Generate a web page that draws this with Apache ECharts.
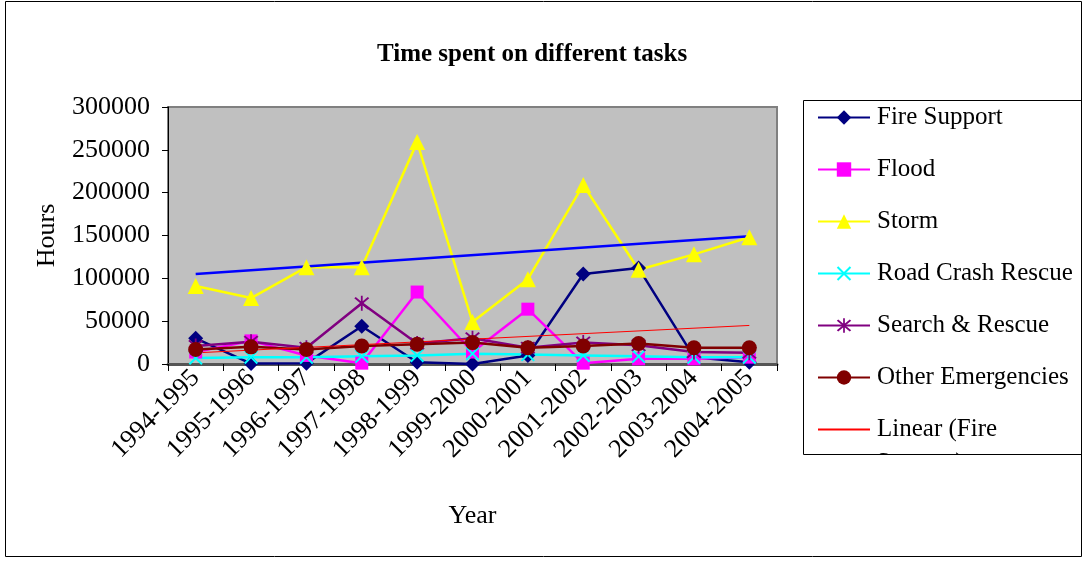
<!DOCTYPE html>
<html>
<head>
<meta charset="utf-8">
<script src="https://cdn.jsdelivr.net/npm/echarts@6/dist/echarts.min.js"></script>
<style>
  html, body { margin: 0; padding: 0; background: #fff; }
  #chart { width: 1086px; height: 561px; }
</style>
</head>
<body>
<div id="chart"></div>
<script>
var years = ['1994-1995', '1995-1996', '1996-1997', '1997-1998', '1998-1999', '1999-2000',
             '2000-2001', '2001-2002', '2002-2003', '2003-2004', '2004-2005'];

var fireSupport = [30000, 500, 1000, 44000, 2000, 0, 10000, 105000, 112000, 8000, 2000];
var flood = [14000, 27000, 10000, 1000, 84000, 14000, 64000, 1000, 6000, 6000, 8000];
var storm = [91000, 77000, 113000, 113000, 259000, 49000, 99000, 209000, 110000, 128000, 148000];
var roadCrash = [7000, 8000, 8000, 9000, 10000, 12000, 11000, 10000, 9000, 8000, 8000];
var searchRescue = [21000, 26000, 19000, 71000, 24000, 30000, 19000, 25000, 22000, 14000, 13000];
var otherEmerg = [17000, 20000, 17000, 21000, 23000, 25000, 19000, 21000, 24000, 19000, 19000];

// trend line end values (first and last year)
var fireTrendEnds = [13000, 45000];
var stormTrendEnds = [105000, 149000];

var yTicks = [0, 50000, 100000, 150000, 200000, 250000, 300000];

var FONT = 'Liberation Serif';

function trendData(ends) {
    var d = [];
    for (var i = 0; i < years.length; i++) d.push(null);
    d[0] = ends[0];
    d[years.length - 1] = ends[1];
    return d;
}

var xPath = 'path://M0,1 L1,0 L5,4 L9,0 L10,1 L6,5 L10,9 L9,10 L5,6 L1,10 L0,9 L4,5 Z';
var starPath = 'path://M0,1 L1,0 L5,4 L9,0 L10,1 L6,5 L10,9 L9,10 L5,6 L1,10 L0,9 L4,5 Z M4.4,-1 L5.6,-1 L5.6,11 L4.4,11 Z';

function lineSeries(name, data, color, symbol, size) {
    return {
        name: name,
        type: 'line',
        data: data,
        symbol: symbol,
        symbolSize: size,
        showAllSymbol: true,
        lineStyle: { color: color, width: 2.5 },
        itemStyle: { color: color },
        animation: false
    };
}

var chart = echarts.init(document.getElementById('chart'));

var option = {
    animation: false,
    title: {
        text: 'Time spent on different tasks',
        left: 372,
        top: 37,
        textStyle: { fontFamily: FONT, fontSize: 25, fontWeight: 'bold', color: '#000' }
    },
    legend: {
        orient: 'vertical',
        left: 817,
        top: 105,
        padding: 0,
        itemGap: 27,
        itemWidth: 52,
        itemHeight: 18,
        selectedMode: false,
        data: ['Fire Support', 'Flood', 'Storm', 'Road Crash Rescue', 'Search & Rescue',
               'Other Emergencies',
               { name: 'Linear (Fire Support)', itemStyle: { opacity: 0 } }],
        formatter: function (name) {
            return name === 'Linear (Fire Support)' ? 'Linear (Fire' : name;
        },
        textStyle: { fontFamily: FONT, fontSize: 25, color: '#000', padding: [0, 0, 0, 2] }
    },
    grid: {
        left: 168,
        top: 107,
        right: 309,
        bottom: 197,
        show: true,
        backgroundColor: '#C0C0C0',
        borderColor: '#808080',
        borderWidth: 2
    },
    xAxis: {
        type: 'category',
        data: years,
        boundaryGap: true,
        name: 'Year',
        nameLocation: 'middle',
        nameGap: 139,
        nameTextStyle: { fontFamily: FONT, fontSize: 26, color: '#000' },
        axisLine: { lineStyle: { color: '#555555', width: 3 } },
        axisTick: { show: true, interval: 0, length: 7, lineStyle: { color: '#000', width: 1 } },
        axisLabel: {
            interval: 0,
            rotate: 45,
            margin: 10,
            fontFamily: FONT,
            fontSize: 26,
            color: '#000'
        },
        splitLine: { show: false }
    },
    yAxis: {
        type: 'value',
        min: yTicks[0],
        max: yTicks[yTicks.length - 1],
        interval: 50000,
        name: 'Hours',
        nameLocation: 'middle',
        nameGap: 108,
        nameTextStyle: { fontFamily: FONT, fontSize: 26, color: '#000' },
        axisLine: { show: true, lineStyle: { color: '#000', width: 1 } },
        axisTick: { show: true, length: 6, lineStyle: { color: '#000' } },
        axisLabel: {
            margin: 18, fontFamily: FONT, fontSize: 26, color: '#000',
            formatter: function (v) { return String(v); }
        },
        splitLine: { show: false }
    },
    graphic: [
        { type: 'text', left: 876, top: 451, z: 10,
          style: { text: 'Support)', font: '25px "Liberation Serif"', fill: '#000' } },
        { type: 'rect', shape: { x: 804, y: 455, width: 276, height: 24 }, z: 11,
          style: { fill: '#fff' } },
        { type: 'rect', shape: { x: 803.5, y: 100.5, width: 278, height: 354 }, z: 12,
          style: { fill: 'none', stroke: '#000', lineWidth: 1 } },
        { type: 'rect', shape: { x: 5.5, y: 1.5, width: 1076, height: 555 }, z: 12,
          style: { fill: 'none', stroke: '#000', lineWidth: 1 } }
    ],
    series: [
        lineSeries('Fire Support', fireSupport, '#000080', 'diamond', 15),
        lineSeries('Flood', flood, '#FF00FF', 'rect', 13),
        lineSeries('Storm', storm, '#FFFF00', 'triangle', 16),
        lineSeries('Road Crash Rescue', roadCrash, '#00FFFF', xPath, 14),
        lineSeries('Search & Rescue', searchRescue, '#800080', starPath, 15),
        lineSeries('Other Emergencies', otherEmerg, '#800000', 'circle', 15),
        {
            name: 'Linear (Fire Support)',
            type: 'line',
            data: trendData(fireTrendEnds),
            connectNulls: true,
            symbol: 'none',
            lineStyle: { color: '#FF0000', width: 1 },
            itemStyle: { color: '#FF0000' }
        },
        {
            name: 'Linear (Storm)',
            type: 'line',
            data: trendData(stormTrendEnds),
            connectNulls: true,
            symbol: 'none',
            lineStyle: { color: '#0000FF', width: 2.5 },
            itemStyle: { color: '#0000FF' }
        }
    ]
};

chart.setOption(option);
</script>
</body>
</html>
